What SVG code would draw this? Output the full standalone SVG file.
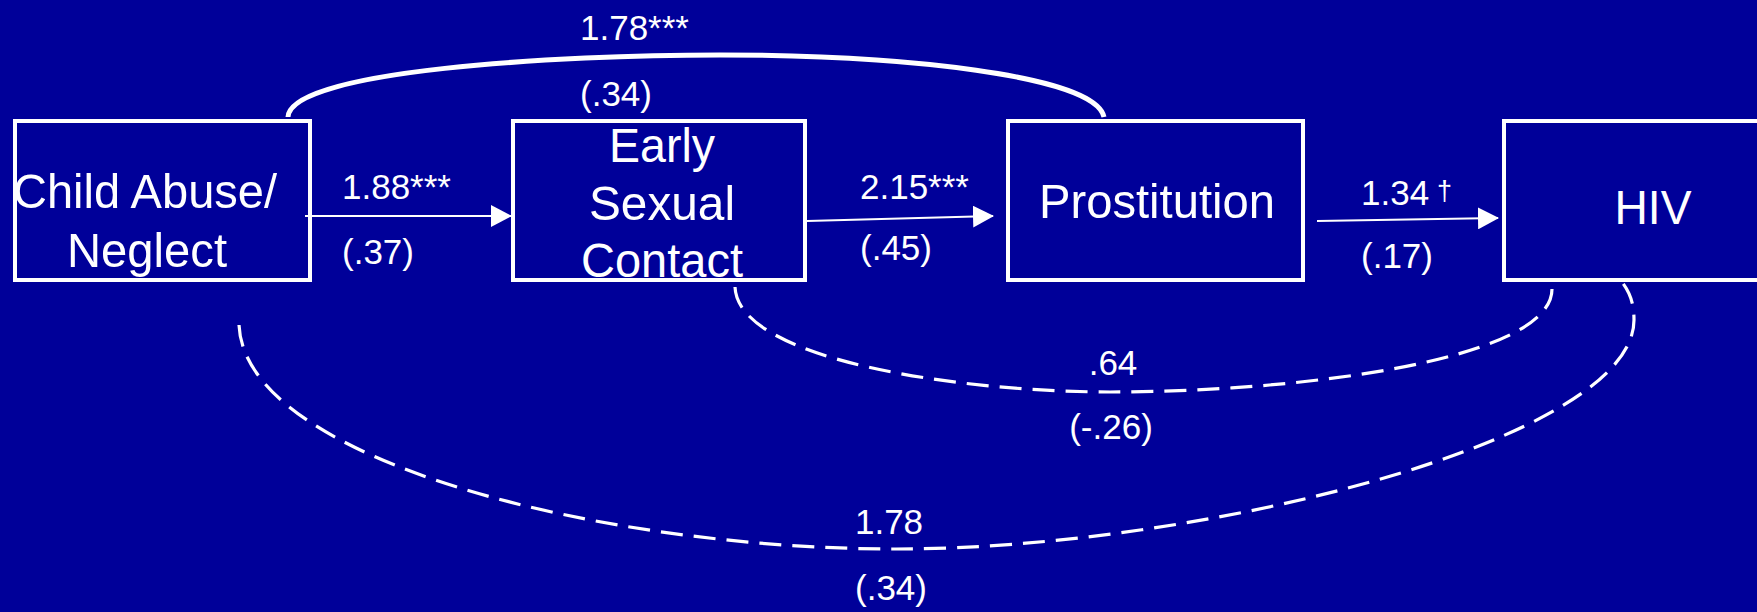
<svg xmlns="http://www.w3.org/2000/svg" width="1757" height="612" viewBox="0 0 1757 612">
<defs>
<style>
.bg{fill:#000099}
.box{fill:none;stroke:#fff;stroke-width:4}
.nt{font-family:"Liberation Sans",Arial,sans-serif;font-size:49px;fill:#fff;text-anchor:middle}
.lb{font-family:"Liberation Sans",Arial,sans-serif;font-size:35px;fill:#fff}
.mid{text-anchor:middle}
.arr{stroke:#fff;stroke-width:2;fill:none}
.arc{stroke:#fff;stroke-width:5;fill:none}
.dash{stroke:#fff;stroke-width:3.2;fill:none;stroke-dasharray:22 11}
</style>
<marker id="ah" markerUnits="userSpaceOnUse" markerWidth="21" markerHeight="22" refX="20" refY="11" orient="auto">
<polygon points="0,0 21,11 0,22" fill="#fff"/>
</marker>
</defs>
<rect class="bg" x="0" y="0" width="1757" height="612"/>
<g id="connectors">
<path class="arc" d="M 288 117 C 290 70, 560 55, 720 55 C 900 55, 1095 75, 1104 117"/>
<line class="arr" x1="305" y1="216" x2="511" y2="216" marker-end="url(#ah)"/>
<line class="arr" x1="807" y1="221" x2="993" y2="216" marker-end="url(#ah)"/>
<line class="arr" x1="1317" y1="221" x2="1498" y2="218" marker-end="url(#ah)"/>
<path class="dash" d="M 735 287 C 738 360, 960 392, 1110 392 C 1300 392, 1552 360, 1552 289"/>
<path class="dash" d="M 239 325 C 245 460, 600 549, 896 549 C 1200 549, 1634 440, 1634 320 C 1634 300, 1628 290, 1622 282"/>
</g>
<g id="labels">
<text class="lb" x="580" y="40">1.78***</text>
<text class="lb" x="580" y="106">(.34)</text>
<text class="lb" x="342" y="199">1.88***</text>
<text class="lb" x="342" y="264">(.37)</text>
<text class="lb" x="860" y="199">2.15***</text>
<text class="lb" x="860" y="260">(.45)</text>
<text class="lb" x="1361" y="205">1.34</text>
<text class="lb" x="1437" y="200" style="font-size:27px">†</text>
<text class="lb" x="1361" y="268">(.17)</text>
<text class="lb mid" x="1113" y="375">.64</text>
<text class="lb mid" x="1111" y="439">(-.26)</text>
<text class="lb mid" x="889" y="534">1.78</text>
<text class="lb mid" x="891" y="600">(.34)</text>
</g>
<g id="node-child-abuse">
<rect class="box" x="15" y="121" width="295" height="159"/>
<text class="nt" x="145" y="208" textLength="264" lengthAdjust="spacingAndGlyphs">Child Abuse/</text>
<text class="nt" x="147" y="267" textLength="160" lengthAdjust="spacingAndGlyphs">Neglect</text>
</g>
<g id="node-early-sexual-contact">
<rect class="box" x="513" y="121" width="292" height="159"/>
<text class="nt" x="662" y="162" textLength="106" lengthAdjust="spacingAndGlyphs">Early</text>
<text class="nt" x="662" y="220" textLength="146" lengthAdjust="spacingAndGlyphs">Sexual</text>
<text class="nt" x="662" y="277" textLength="162" lengthAdjust="spacingAndGlyphs">Contact</text>
</g>
<g id="node-prostitution">
<rect class="box" x="1008" y="121" width="295" height="159"/>
<text class="nt" x="1157" y="218" textLength="236" lengthAdjust="spacingAndGlyphs">Prostitution</text>
</g>
<g id="node-hiv">
<rect class="box" x="1504" y="121" width="300" height="159"/>
<text class="nt" x="1653" y="224" textLength="77" lengthAdjust="spacingAndGlyphs">HIV</text>
</g>
</svg>
